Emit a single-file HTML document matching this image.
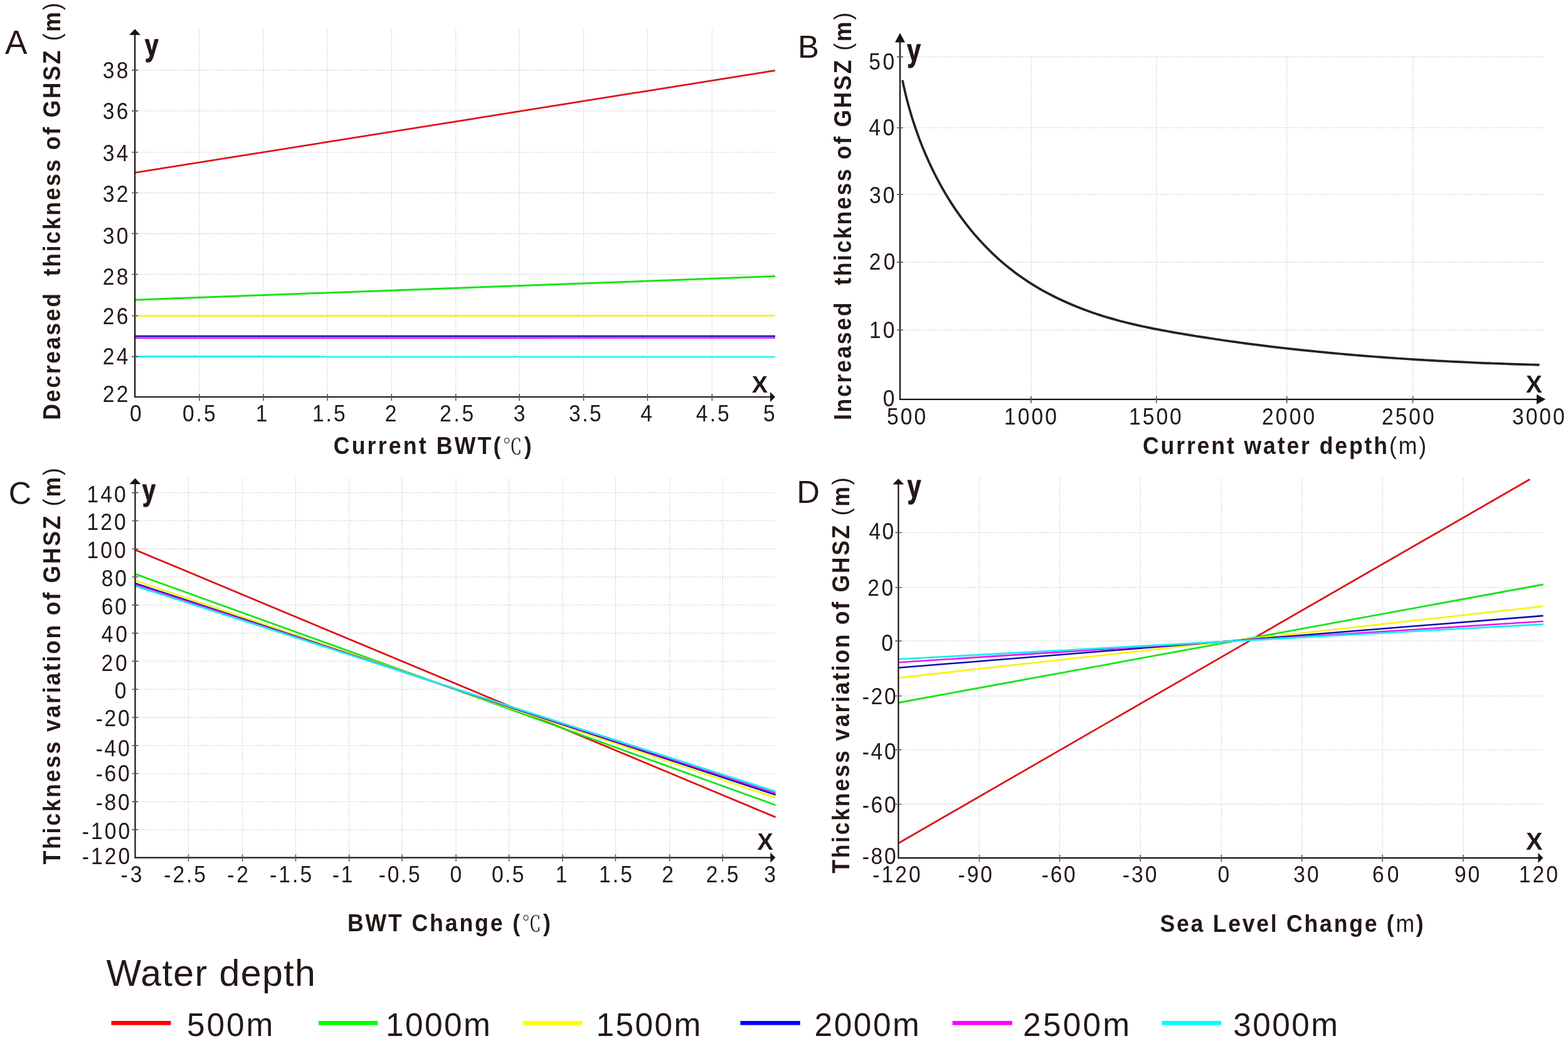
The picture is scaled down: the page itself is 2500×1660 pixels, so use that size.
<!DOCTYPE html>
<html><head><meta charset="utf-8"><title>GHSZ thickness variation</title>
<style>html,body{margin:0;padding:0;background:#fff;}svg{display:block;}
.c{font-family:'Noto Serif CJK SC','Liberation Serif',serif;font-weight:normal;font-size:0.87em;}</style></head>
<body><svg xmlns="http://www.w3.org/2000/svg" width="2500" height="1660" viewBox="0 0 2500 1660">
<rect width="2500" height="1660" fill="#fff"/>
<path d="M317.8 46.5V633M420 46.5V633M522 46.5V633M624.3 46.5V633M726.7 46.5V633M827.9 46.5V633M930.5 46.5V633M1032.4 46.5V633M1135.3 46.5V633M215.1 568.6H1236M215.1 503.5H1236M215.1 437.5H1236M215.1 372.5H1236M215.1 307.5H1236M215.1 242.8H1236M215.1 176.9H1236M215.1 111.9H1236" stroke="#cfcfcf" stroke-width="1.3" stroke-dasharray="1.8 1.9" fill="none"/>
<path d="M1644 90.7V636.8M1843.8 90.7V636.8M2051.7 90.7V636.8M2252.6 90.7V636.8M1435 526.3H2463M1435 418.1H2463M1435 310.1H2463M1435 203.7H2463M1435 90.6H2463" stroke="#cfcfcf" stroke-width="1.3" stroke-dasharray="1.8 1.9" fill="none"/>
<path d="M300.5 762.6V1367.6M386.6 762.6V1367.6M471.4 762.6V1367.6M556.7 762.6V1367.6M641 762.6V1367.6M727.1 762.6V1367.6M811.6 762.6V1367.6M897 762.6V1367.6M981.4 762.6V1367.6M1067.7 762.6V1367.6M1152.2 762.6V1367.6M215.5 1323.15H1236.3M215.5 1278.36H1236.3M215.5 1233.57H1236.3M215.5 1188.78H1236.3M215.5 1143.99H1236.3M215.5 1099.2H1236.3M215.5 1054.41H1236.3M215.5 1009.62H1236.3M215.5 964.83H1236.3M215.5 920.04H1236.3M215.5 875.25H1236.3M215.5 830.46H1236.3M215.5 785.67H1236.3" stroke="#cfcfcf" stroke-width="1.3" stroke-dasharray="1.8 1.9" fill="none"/>
<path d="M1561.5 763V1368.1M1689.5 763V1368.1M1818.2 763V1368.1M1947.4 763V1368.1M2075.6 763V1368.1M2204.2 763V1368.1M2333 763V1368.1M1432.4 1282.5H2460.3M1432.4 1195.6H2460.3M1432.4 1109.8H2460.3M1432.4 1022.1H2460.3M1432.4 936.8H2460.3M1432.4 849.3H2460.3" stroke="#cfcfcf" stroke-width="1.3" stroke-dasharray="1.8 1.9" fill="none"/>
<path d="M215.1 275.4L1236 112.4" stroke="#e01018" stroke-width="2.7" fill="none"/>
<path d="M215.1 478.2L1236 440.6" stroke="#19e319" stroke-width="3.0" fill="none"/>
<path d="M215.1 503.6L1236 503.4" stroke="#f7f314" stroke-width="2.8" fill="none"/>
<path d="M215.1 536L1236 536" stroke="#0c0cb4" stroke-width="2.6" fill="none"/>
<path d="M215.1 538.9L1236 538.8" stroke="#ee14ee" stroke-width="2.6" fill="none"/>
<path d="M215.1 568.6L1236 568.8" stroke="#19eef0" stroke-width="3.0" fill="none"/>
<path d="M1438.86 127.83C1439.28 129.8 1440.52 135.72 1441.4 139.66C1442.28 143.59 1443.2 147.52 1444.16 151.44C1445.12 155.36 1446.12 159.26 1447.16 163.16C1448.2 167.06 1449.27 170.95 1450.38 174.83C1451.49 178.71 1452.63 182.58 1453.82 186.43C1455.01 190.28 1456.24 194.12 1457.5 197.95C1458.76 201.78 1460.06 205.6 1461.4 209.41C1462.74 213.22 1464.12 217 1465.53 220.78C1466.94 224.56 1468.4 228.32 1469.89 232.07C1471.38 235.82 1472.92 239.54 1474.49 243.26C1476.06 246.97 1477.66 250.68 1479.31 254.36C1480.96 258.04 1482.65 261.71 1484.38 265.35C1486.11 268.99 1487.87 272.62 1489.68 276.22C1491.49 279.83 1493.34 283.42 1495.23 286.98C1497.12 290.54 1499.05 294.08 1501.02 297.6C1502.99 301.12 1505 304.62 1507.05 308.09C1509.1 311.56 1511.2 315.01 1513.34 318.43C1515.48 321.85 1517.65 325.24 1519.87 328.61C1522.09 331.98 1524.35 335.32 1526.66 338.63C1528.97 341.94 1531.32 345.22 1533.71 348.47C1536.1 351.72 1538.53 354.94 1541.01 358.12C1543.49 361.3 1546.01 364.45 1548.57 367.56C1551.13 370.67 1553.74 373.76 1556.39 376.8C1559.04 379.84 1561.73 382.84 1564.47 385.8C1567.21 388.76 1569.99 391.69 1572.81 394.57C1575.63 397.45 1578.5 400.29 1581.4 403.09C1584.31 405.89 1587.25 408.64 1590.24 411.35C1593.23 414.06 1596.26 416.72 1599.33 419.34C1602.4 421.96 1605.5 424.53 1608.65 427.05C1611.8 429.57 1614.99 432.05 1618.21 434.47C1621.43 436.89 1624.7 439.26 1628 441.58C1631.3 443.9 1634.64 446.16 1638.01 448.38C1641.38 450.6 1644.79 452.76 1648.23 454.87C1651.67 456.98 1655.13 459.03 1658.63 461.04C1662.13 463.05 1665.66 465.01 1669.21 466.92C1672.76 468.83 1676.35 470.69 1679.95 472.5C1683.55 474.31 1687.18 476.06 1690.83 477.78C1694.48 479.5 1698.16 481.17 1701.85 482.79C1705.54 484.42 1709.25 486 1712.98 487.53C1716.71 489.06 1720.47 490.55 1724.23 492C1727.99 493.45 1731.77 494.85 1735.57 496.21C1739.37 497.57 1743.18 498.9 1747 500.18C1750.82 501.46 1754.66 502.7 1758.51 503.9C1762.36 505.1 1766.23 506.27 1770.1 507.4C1773.97 508.53 1777.85 509.62 1781.74 510.68C1785.63 511.74 1789.54 512.76 1793.45 513.75C1797.36 514.74 1801.28 515.71 1805.2 516.64C1809.12 517.57 1813.05 518.47 1816.99 519.35C1820.93 520.23 1824.87 521.08 1828.82 521.91C1832.77 522.74 1836.71 523.54 1840.67 524.32C1844.63 525.11 1848.6 525.87 1852.56 526.62C1856.52 527.37 1860.49 528.09 1864.46 528.81C1868.43 529.52 1872.4 530.22 1876.37 530.91C1880.34 531.6 1884.32 532.27 1888.3 532.94C1892.28 533.61 1896.26 534.26 1900.24 534.91C1904.22 535.56 1908.21 536.2 1912.19 536.83C1916.17 537.46 1920.15 538.09 1924.14 538.7C1928.13 539.32 1932.12 539.92 1936.11 540.52C1940.1 541.12 1944.09 541.7 1948.08 542.28C1952.07 542.86 1956.06 543.43 1960.05 544C1964.04 544.57 1968.04 545.12 1972.04 545.67C1976.04 546.22 1980.03 546.76 1984.03 547.3C1988.03 547.83 1992.03 548.36 1996.03 548.88C2000.03 549.4 2004.03 549.91 2008.03 550.41C2012.03 550.91 2016.04 551.41 2020.04 551.9C2024.04 552.39 2028.05 552.87 2032.05 553.34C2036.05 553.81 2040.06 554.28 2044.07 554.74C2048.08 555.2 2052.09 555.65 2056.1 556.1C2060.11 556.55 2064.11 556.99 2068.12 557.42C2072.13 557.85 2076.15 558.28 2080.16 558.7C2084.17 559.12 2088.18 559.53 2092.19 559.94C2096.2 560.35 2100.22 560.75 2104.23 561.14C2108.24 561.53 2112.26 561.92 2116.28 562.3C2120.3 562.68 2124.31 563.06 2128.33 563.43C2132.35 563.8 2136.36 564.16 2140.38 564.52C2144.4 564.88 2148.41 565.23 2152.43 565.57C2156.45 565.92 2160.47 566.25 2164.49 566.59C2168.51 566.93 2172.53 567.26 2176.55 567.58C2180.57 567.9 2184.59 568.21 2188.61 568.52C2192.63 568.83 2196.66 569.14 2200.68 569.44C2204.7 569.74 2208.73 570.03 2212.75 570.32C2216.77 570.61 2220.8 570.89 2224.82 571.17C2228.84 571.45 2232.86 571.72 2236.89 571.99C2240.91 572.26 2244.94 572.52 2248.97 572.78C2252.99 573.04 2257.01 573.28 2261.04 573.53C2265.07 573.78 2269.09 574.02 2273.12 574.26C2277.15 574.5 2281.17 574.72 2285.2 574.95C2289.23 575.18 2293.25 575.4 2297.28 575.62C2301.31 575.84 2305.34 576.05 2309.37 576.26C2313.4 576.47 2317.42 576.67 2321.45 576.87C2325.48 577.07 2329.51 577.26 2333.54 577.45C2337.57 577.64 2341.6 577.82 2345.63 578C2349.66 578.18 2353.69 578.36 2357.72 578.53C2361.75 578.7 2365.78 578.87 2369.81 579.03C2373.84 579.19 2377.87 579.36 2381.9 579.51C2385.93 579.66 2389.96 579.82 2393.99 579.96C2398.02 580.11 2402.05 580.24 2406.08 580.38C2410.11 580.52 2414.15 580.66 2418.18 580.79C2422.21 580.92 2426.24 581.04 2430.27 581.16C2434.3 581.28 2438.33 581.4 2442.36 581.52C2446.39 581.63 2452.44 581.8 2454.46 581.85" stroke="#2a201b" stroke-width="3.7" fill="none"/>
<path d="M215.8 876.9L1236.6 1303.1" stroke="#e01018" stroke-width="2.8" fill="none"/>
<path d="M215.8 915.4L1236.6 1283.8" stroke="#19e319" stroke-width="2.8" fill="none"/>
<path d="M215.8 926L1236.6 1272.2" stroke="#f7f314" stroke-width="2.8" fill="none"/>
<path d="M215.8 930.3L1236.6 1267.4" stroke="#0c0cb4" stroke-width="2.6" fill="none"/>
<path d="M215.8 932.3L1236.6 1264.7" stroke="#ee14ee" stroke-width="2.6" fill="none"/>
<path d="M215.8 934.6L1236.6 1262.2" stroke="#19eef0" stroke-width="2.8" fill="none"/>
<path d="M1433.1 1344.2L1992.8 1021.6" stroke="#e01018" stroke-width="2.8" fill="none"/>
<path d="M2003 1015.4L2439.3 764.3" stroke="#e01018" stroke-width="2.8" fill="none"/>
<path d="M1432.9 1120.5L2460.5 932" stroke="#19e319" stroke-width="2.8" fill="none"/>
<path d="M1432.9 1080.8L2460.5 966.8" stroke="#f7f314" stroke-width="2.8" fill="none"/>
<path d="M1432.9 1064.8L2460.5 981.9" stroke="#0c0cb4" stroke-width="2.6" fill="none"/>
<path d="M1432.9 1056.2L2460.5 990.7" stroke="#ee14ee" stroke-width="2.6" fill="none"/>
<path d="M1432.9 1051.2L2460.5 995.5" stroke="#19eef0" stroke-width="2.8" fill="none"/>
<path d="M215.1 54.8V633H1229" stroke="#1a1311" stroke-width="2.2" fill="none"/>
<path d="M215.1 46.3L224.1 55.8H206.1Z" fill="#1a1311"/>
<path d="M1236 633L1228 641V625Z" fill="#1a1311"/>
<path d="M210.1 568.6H220.1M210.1 503.5H220.1M210.1 437.5H220.1M210.1 372.5H220.1M210.1 307.5H220.1M210.1 242.8H220.1M210.1 176.9H220.1M210.1 111.9H220.1M317.8 628V639M420 628V639M522 628V639M624.3 628V639M726.7 628V639M827.9 628V639M930.5 628V639M1032.4 628V639M1135.3 628V639" stroke="#555" stroke-width="1.6" fill="none"/>
<path d="M1435 66.4V636.8H2451" stroke="#1a1311" stroke-width="2.2" fill="none"/>
<path d="M1435 52.4L1443 67.4H1427Z" fill="#1a1311"/>
<path d="M2464.2 636.8L2450 644.8V628.8Z" fill="#1a1311"/>
<path d="M1430 526.3H1440M1430 418.1H1440M1430 310.1H1440M1430 203.7H1440M1430 90.6H1440M1644 631.8V642.8M1843.8 631.8V642.8M2051.7 631.8V642.8M2252.6 631.8V642.8" stroke="#555" stroke-width="1.6" fill="none"/>
<path d="M215.5 771V1367.6H1229.3" stroke="#1a1311" stroke-width="2.2" fill="none"/>
<path d="M215.5 762.6L224.5 772H206.5Z" fill="#1a1311"/>
<path d="M1236.3 1367.6L1228.3 1375.6V1359.6Z" fill="#1a1311"/>
<path d="M210.5 1323.15H220.5M210.5 1278.36H220.5M210.5 1233.57H220.5M210.5 1188.78H220.5M210.5 1143.99H220.5M210.5 1099.2H220.5M210.5 1054.41H220.5M210.5 1009.62H220.5M210.5 964.83H220.5M210.5 920.04H220.5M210.5 875.25H220.5M210.5 830.46H220.5M210.5 785.67H220.5M300.5 1362.6V1373.6M386.6 1362.6V1373.6M471.4 1362.6V1373.6M556.7 1362.6V1373.6M641 1362.6V1373.6M727.1 1362.6V1373.6M811.6 1362.6V1373.6M897 1362.6V1373.6M981.4 1362.6V1373.6M1067.7 1362.6V1373.6M1152.2 1362.6V1373.6" stroke="#555" stroke-width="1.6" fill="none"/>
<path d="M1432.4 771.6V1368.1H2453.3" stroke="#1a1311" stroke-width="2.2" fill="none"/>
<path d="M1432.4 763.2L1441.4 772.6H1423.4Z" fill="#1a1311"/>
<path d="M2460.3 1368.1L2452.3 1376.1V1360.1Z" fill="#1a1311"/>
<path d="M1427.4 1282.5H1437.4M1427.4 1195.6H1437.4M1427.4 1109.8H1437.4M1427.4 1022.1H1437.4M1427.4 936.8H1437.4M1427.4 849.3H1437.4M1561.5 1363.1V1374.1M1689.5 1363.1V1374.1M1818.2 1363.1V1374.1M1947.4 1363.1V1374.1M2075.6 1363.1V1374.1M2204.2 1363.1V1374.1M2333 1363.1V1374.1" stroke="#555" stroke-width="1.6" fill="none"/>
<rect x="177.5" y="1628" width="95" height="6.6" fill="#ff0000"/>
<rect x="507.7" y="1628" width="94.7" height="6.6" fill="#00ff00"/>
<rect x="833.6" y="1628" width="94.9" height="6.6" fill="#ffff00"/>
<rect x="1180.4" y="1628" width="95.3" height="6.6" fill="#0000ff"/>
<rect x="1518.6" y="1628" width="95.3" height="6.6" fill="#ff00ff"/>
<rect x="1852" y="1628" width="95.3" height="6.6" fill="#00ffff"/>
<g fill="#231815" font-family="'Liberation Sans', Arial, sans-serif">
<text x="7.88" y="86.26" font-size="53.11">A</text>
<text x="1272.07" y="91.95" font-size="50.77">B</text>
<text x="13.64" y="803.54" font-size="50.37">C</text>
<text x="1270.17" y="802.45" font-size="50.78">D</text>
<text x="231.1" y="89.01" font-size="48.99" font-weight="bold" stroke="#231815" stroke-width="1.3" stroke-linejoin="round" transform="translate(231.1 89.01) scale(0.7919 1) translate(-231.1 -89.01)">y</text>
<text x="1446.31" y="97.88" font-size="50.55" font-weight="bold" stroke="#231815" stroke-width="1.3" stroke-linejoin="round" transform="translate(1446.31 97.88) scale(0.7673 1) translate(-1446.31 -97.88)">y</text>
<text x="227" y="798.32" font-size="46.41" font-weight="bold" stroke="#231815" stroke-width="1.3" stroke-linejoin="round" transform="translate(227 798.32) scale(0.808 1) translate(-227 -798.32)">y</text>
<text x="1446.8" y="792.97" font-size="52.3" font-weight="bold" stroke="#231815" stroke-width="1.3" stroke-linejoin="round" transform="translate(1446.8 792.97) scale(0.7411 1) translate(-1446.8 -792.97)">y</text>
<text x="1198.7" y="625.55" font-size="37.82" font-weight="bold">X</text>
<text x="2432.94" y="625.95" font-size="38.45" font-weight="bold">X</text>
<text x="1207.6" y="1354.51" font-size="37.6" font-weight="bold">X</text>
<text x="2432.96" y="1355.33" font-size="39.54" font-weight="bold">X</text>
<text x="163.66" y="125.24" font-size="37.3" letter-spacing="3.79" transform="translate(163.66 125.24) scale(0.9 1) translate(-163.66 -125.24)">38</text>
<text x="163.66" y="190.24" font-size="37.3" letter-spacing="3.82" transform="translate(163.66 190.24) scale(0.9 1) translate(-163.66 -190.24)">36</text>
<text x="163.66" y="257.24" font-size="37.3" letter-spacing="3.93" transform="translate(163.66 257.24) scale(0.9 1) translate(-163.66 -257.24)">34</text>
<text x="163.66" y="321.8" font-size="37.3" letter-spacing="3.86" transform="translate(163.66 321.8) scale(0.9 1) translate(-163.66 -321.8)">32</text>
<text x="163.66" y="389.02" font-size="37.3" letter-spacing="3.87" transform="translate(163.66 389.02) scale(0.9 1) translate(-163.66 -389.02)">30</text>
<text x="163.66" y="454.3" font-size="37.3" letter-spacing="3.79" transform="translate(163.66 454.3) scale(0.9 1) translate(-163.66 -454.3)">28</text>
<text x="163.66" y="517.02" font-size="37.3" letter-spacing="3.82" transform="translate(163.66 517.02) scale(0.9 1) translate(-163.66 -517.02)">26</text>
<text x="163.66" y="581.5" font-size="37.3" letter-spacing="3.93" transform="translate(163.66 581.5) scale(0.9 1) translate(-163.66 -581.5)">24</text>
<text x="163.66" y="640.6" font-size="37.3" letter-spacing="3.86" transform="translate(163.66 640.6) scale(0.9 1) translate(-163.66 -640.6)">22</text>
<text x="207.09" y="672.39" font-size="37.3" letter-spacing="2" transform="translate(207.09 672.39) scale(0.9 1) translate(-207.09 -672.39)">0</text>
<text x="290.96" y="672.39" font-size="37.3" letter-spacing="3.33" transform="translate(290.96 672.39) scale(0.9 1) translate(-290.96 -672.39)">0.5</text>
<text x="407.88" y="672.39" font-size="37.3" letter-spacing="3.38" transform="translate(407.88 672.39) scale(0.9 1) translate(-407.88 -672.39)">1</text>
<text x="497.91" y="672.39" font-size="37.3" letter-spacing="3.38" transform="translate(497.91 672.39) scale(0.9 1) translate(-497.91 -672.39)">1.5</text>
<text x="613.83" y="672.39" font-size="37.3" letter-spacing="2" transform="translate(613.83 672.39) scale(0.9 1) translate(-613.83 -672.39)">2</text>
<text x="701.04" y="672.39" font-size="37.3" letter-spacing="4.11" transform="translate(701.04 672.39) scale(0.9 1) translate(-701.04 -672.39)">2.5</text>
<text x="818.83" y="672.39" font-size="37.3" letter-spacing="2" transform="translate(818.83 672.39) scale(0.9 1) translate(-818.83 -672.39)">3</text>
<text x="907.09" y="672.39" font-size="37.3" letter-spacing="2.72" transform="translate(907.09 672.39) scale(0.9 1) translate(-907.09 -672.39)">3.5</text>
<text x="1021.26" y="672.39" font-size="37.3" letter-spacing="2" transform="translate(1021.26 672.39) scale(0.9 1) translate(-1021.26 -672.39)">4</text>
<text x="1109.8" y="672.39" font-size="37.3" letter-spacing="3.52" transform="translate(1109.8 672.39) scale(0.9 1) translate(-1109.8 -672.39)">4.5</text>
<text x="1216.97" y="672.39" font-size="37.3" letter-spacing="2" transform="translate(1216.97 672.39) scale(0.9 1) translate(-1216.97 -672.39)">5</text>
<text x="1385.24" y="110.94" font-size="37.3" letter-spacing="3.9" transform="translate(1385.24 110.94) scale(0.9 1) translate(-1385.24 -110.94)">50</text>
<text x="1385.26" y="216.45" font-size="37.3" letter-spacing="3.87" transform="translate(1385.26 216.45) scale(0.9 1) translate(-1385.26 -216.45)">40</text>
<text x="1385.89" y="324.24" font-size="37.3" letter-spacing="3.62" transform="translate(1385.89 324.24) scale(0.9 1) translate(-1385.89 -324.24)">30</text>
<text x="1385.66" y="430.14" font-size="37.3" letter-spacing="4.91" transform="translate(1385.66 430.14) scale(0.9 1) translate(-1385.66 -430.14)">20</text>
<text x="1386.01" y="539.37" font-size="37.3" letter-spacing="3.38" transform="translate(1386.01 539.37) scale(0.9 1) translate(-1386.01 -539.37)">10</text>
<text x="1407.76" y="647.85" font-size="37.3" letter-spacing="2" transform="translate(1407.76 647.85) scale(0.9 1) translate(-1407.76 -647.85)">0</text>
<text x="1414.07" y="676.73" font-size="37.3" letter-spacing="3.42" transform="translate(1414.07 676.73) scale(0.9 1) translate(-1414.07 -676.73)">500</text>
<text x="1601.09" y="676.73" font-size="37.3" letter-spacing="3.38" transform="translate(1601.09 676.73) scale(0.9 1) translate(-1601.09 -676.73)">1000</text>
<text x="1800.02" y="676.73" font-size="37.3" letter-spacing="3.38" transform="translate(1800.02 676.73) scale(0.9 1) translate(-1800.02 -676.73)">1500</text>
<text x="2011.94" y="676.73" font-size="37.3" letter-spacing="3.58" transform="translate(2011.94 676.73) scale(0.9 1) translate(-2011.94 -676.73)">2000</text>
<text x="2202.95" y="676.73" font-size="37.3" letter-spacing="3.38" transform="translate(2202.95 676.73) scale(0.9 1) translate(-2202.95 -676.73)">2500</text>
<text x="2411.09" y="676.73" font-size="37.3" letter-spacing="3.27" transform="translate(2411.09 676.73) scale(0.9 1) translate(-2411.09 -676.73)">3000</text>
<text x="138.54" y="800.65" font-size="37.3" letter-spacing="3.38" transform="translate(138.54 800.65) scale(0.9 1) translate(-138.54 -800.65)">140</text>
<text x="138.54" y="845.19" font-size="37.3" letter-spacing="3.38" transform="translate(138.54 845.19) scale(0.9 1) translate(-138.54 -845.19)">120</text>
<text x="138.54" y="890.05" font-size="37.3" letter-spacing="3.38" transform="translate(138.54 890.05) scale(0.9 1) translate(-138.54 -890.05)">100</text>
<text x="161.76" y="935.35" font-size="37.3" letter-spacing="3.26" transform="translate(161.76 935.35) scale(0.9 1) translate(-161.76 -935.35)">80</text>
<text x="161.76" y="980.05" font-size="37.3" letter-spacing="3.26" transform="translate(161.76 980.05) scale(0.9 1) translate(-161.76 -980.05)">60</text>
<text x="161.7" y="1023.75" font-size="37.3" letter-spacing="4.26" transform="translate(161.7 1023.75) scale(0.9 1) translate(-161.7 -1023.75)">40</text>
<text x="161.46" y="1069.85" font-size="37.3" letter-spacing="4.43" transform="translate(161.46 1069.85) scale(0.9 1) translate(-161.46 -1069.85)">20</text>
<text x="182.86" y="1113.53" font-size="37.3" letter-spacing="2" transform="translate(182.86 1113.53) scale(0.9 1) translate(-182.86 -1113.53)">0</text>
<text x="152.66" y="1158.25" font-size="37.3" letter-spacing="3.06" transform="translate(152.66 1158.25) scale(0.9 1) translate(-152.66 -1158.25)">-20</text>
<text x="152.66" y="1205.83" font-size="37.3" letter-spacing="3.06" transform="translate(152.66 1205.83) scale(0.9 1) translate(-152.66 -1205.83)">-40</text>
<text x="152.66" y="1246.25" font-size="37.3" letter-spacing="3.06" transform="translate(152.66 1246.25) scale(0.9 1) translate(-152.66 -1246.25)">-60</text>
<text x="152.66" y="1291.88" font-size="37.3" letter-spacing="3.06" transform="translate(152.66 1291.88) scale(0.9 1) translate(-152.66 -1291.88)">-80</text>
<text x="130.76" y="1338.17" font-size="37.3" letter-spacing="3.38" transform="translate(130.76 1338.17) scale(0.9 1) translate(-130.76 -1338.17)">-100</text>
<text x="130.76" y="1377.64" font-size="37.3" letter-spacing="3.38" transform="translate(130.76 1377.64) scale(0.9 1) translate(-130.76 -1377.64)">-120</text>
<text x="192.46" y="1406.82" font-size="37.3" letter-spacing="4.53" transform="translate(192.46 1406.82) scale(0.9 1) translate(-192.46 -1406.82)">-3</text>
<text x="261.34" y="1406.82" font-size="37.3" letter-spacing="3.21" transform="translate(261.34 1406.82) scale(0.9 1) translate(-261.34 -1406.82)">-2.5</text>
<text x="362.34" y="1406.82" font-size="37.3" letter-spacing="4.09" transform="translate(362.34 1406.82) scale(0.9 1) translate(-362.34 -1406.82)">-2</text>
<text x="430.1" y="1406.82" font-size="37.3" letter-spacing="3.38" transform="translate(430.1 1406.82) scale(0.9 1) translate(-430.1 -1406.82)">-1.5</text>
<text x="529.64" y="1406.82" font-size="37.3" letter-spacing="3.38" transform="translate(529.64 1406.82) scale(0.9 1) translate(-529.64 -1406.82)">-1</text>
<text x="603.86" y="1406.82" font-size="37.3" letter-spacing="2.93" transform="translate(603.86 1406.82) scale(0.9 1) translate(-603.86 -1406.82)">-0.5</text>
<text x="717.56" y="1406.82" font-size="37.3" letter-spacing="2" transform="translate(717.56 1406.82) scale(0.9 1) translate(-717.56 -1406.82)">0</text>
<text x="783.96" y="1406.82" font-size="37.3" letter-spacing="2.72" transform="translate(783.96 1406.82) scale(0.9 1) translate(-783.96 -1406.82)">0.5</text>
<text x="885.71" y="1406.82" font-size="37.3" letter-spacing="3.38" transform="translate(885.71 1406.82) scale(0.9 1) translate(-885.71 -1406.82)">1</text>
<text x="955.11" y="1406.82" font-size="37.3" letter-spacing="3.38" transform="translate(955.11 1406.82) scale(0.9 1) translate(-955.11 -1406.82)">1.5</text>
<text x="1055.34" y="1406.82" font-size="37.3" letter-spacing="2" transform="translate(1055.34 1406.82) scale(0.9 1) translate(-1055.34 -1406.82)">2</text>
<text x="1125.76" y="1406.82" font-size="37.3" letter-spacing="2.79" transform="translate(1125.76 1406.82) scale(0.9 1) translate(-1125.76 -1406.82)">2.5</text>
<text x="1218.34" y="1406.82" font-size="37.3" letter-spacing="2" transform="translate(1218.34 1406.82) scale(0.9 1) translate(-1218.34 -1406.82)">3</text>
<text x="1385.6" y="860.35" font-size="37.3" letter-spacing="2.36" transform="translate(1385.6 860.35) scale(0.9 1) translate(-1385.6 -860.35)">40</text>
<text x="1383.14" y="950.19" font-size="37.3" letter-spacing="4.04" transform="translate(1383.14 950.19) scale(0.9 1) translate(-1383.14 -950.19)">20</text>
<text x="1405.24" y="1037.98" font-size="37.3" letter-spacing="2" transform="translate(1405.24 1037.98) scale(0.9 1) translate(-1405.24 -1037.98)">0</text>
<text x="1374.66" y="1122.53" font-size="37.3" letter-spacing="3.06" transform="translate(1374.66 1122.53) scale(0.9 1) translate(-1374.66 -1122.53)">-20</text>
<text x="1374.66" y="1210.85" font-size="37.3" letter-spacing="3.06" transform="translate(1374.66 1210.85) scale(0.9 1) translate(-1374.66 -1210.85)">-40</text>
<text x="1374.66" y="1295.85" font-size="37.3" letter-spacing="3.06" transform="translate(1374.66 1295.85) scale(0.9 1) translate(-1374.66 -1295.85)">-60</text>
<text x="1374.66" y="1377.82" font-size="37.3" letter-spacing="3.06" transform="translate(1374.66 1377.82) scale(0.9 1) translate(-1374.66 -1377.82)">-80</text>
<text x="1391.34" y="1407.08" font-size="37.3" letter-spacing="3.38" transform="translate(1391.34 1407.08) scale(0.9 1) translate(-1391.34 -1407.08)">-120</text>
<text x="1527.46" y="1407.08" font-size="37.3" letter-spacing="3.36" transform="translate(1527.46 1407.08) scale(0.9 1) translate(-1527.46 -1407.08)">-90</text>
<text x="1660.86" y="1407.08" font-size="37.3" letter-spacing="2.91" transform="translate(1660.86 1407.08) scale(0.9 1) translate(-1660.86 -1407.08)">-60</text>
<text x="1789.86" y="1407.08" font-size="37.3" letter-spacing="3.36" transform="translate(1789.86 1407.08) scale(0.9 1) translate(-1789.86 -1407.08)">-30</text>
<text x="1941.56" y="1407.08" font-size="37.3" letter-spacing="2" transform="translate(1941.56 1407.08) scale(0.9 1) translate(-1941.56 -1407.08)">0</text>
<text x="2062.35" y="1407.08" font-size="37.3" letter-spacing="3.3" transform="translate(2062.35 1407.08) scale(0.9 1) translate(-2062.35 -1407.08)">30</text>
<text x="2188.04" y="1407.08" font-size="37.3" letter-spacing="5.69" transform="translate(2188.04 1407.08) scale(0.9 1) translate(-2188.04 -1407.08)">60</text>
<text x="2318.95" y="1407.08" font-size="37.3" letter-spacing="3.11" transform="translate(2318.95 1407.08) scale(0.9 1) translate(-2318.95 -1407.08)">90</text>
<text x="2421.77" y="1407.08" font-size="37.3" letter-spacing="3.38" transform="translate(2421.77 1407.08) scale(0.9 1) translate(-2421.77 -1407.08)">120</text>
<text x="531.76" y="723.9" font-size="39.6" font-weight="bold" letter-spacing="3.54" transform="translate(531.76 723.9) scale(0.9 1) translate(-531.76 -723.9)">Current BWT(<tspan class="c">℃</tspan>)</text>
<text x="1821.93" y="723.8" font-size="39.6" font-weight="bold" letter-spacing="3.19" transform="translate(1821.93 723.8) scale(0.9 1) translate(-1821.93 -723.8)">Current water depth<tspan font-weight="normal">(m)</tspan></text>
<text x="553.95" y="1485.4" font-size="39.6" font-weight="bold" letter-spacing="3.21" transform="translate(553.95 1485.4) scale(0.9 1) translate(-553.95 -1485.4)">BWT Change (<tspan class="c">℃</tspan>)</text>
<text x="1849.49" y="1485.8" font-size="39.6" font-weight="bold" letter-spacing="3.04" transform="translate(1849.49 1485.8) scale(0.9 1) translate(-1849.49 -1485.8)">Sea Level Change (<tspan font-weight="normal">m</tspan>)</text>
<text x="95.7" y="669.72" font-size="39.6" font-weight="bold" letter-spacing="2.98" transform="rotate(-90 95.7 669.72) translate(95.7 669.72) scale(0.9 1) translate(-95.7 -669.72)">Decreased  thickness of GHSZ <tspan font-weight="normal">(</tspan>m<tspan font-weight="normal">)</tspan></text>
<text x="1356.6" y="669.92" font-size="39.6" font-weight="bold" letter-spacing="2.93" transform="rotate(-90 1356.6 669.92) translate(1356.6 669.92) scale(0.9 1) translate(-1356.6 -669.92)">Increased  thickness of GHSZ <tspan font-weight="normal">(</tspan>m<tspan font-weight="normal">)</tspan></text>
<text x="95.6" y="1378.39" font-size="39.6" font-weight="bold" letter-spacing="3.03" transform="rotate(-90 95.6 1378.39) translate(95.6 1378.39) scale(0.9 1) translate(-95.6 -1378.39)">Thickness variation of GHSZ <tspan font-weight="normal">(</tspan>m<tspan font-weight="normal">)</tspan></text>
<text x="1353.6" y="1392.76" font-size="39.6" font-weight="bold" letter-spacing="3" transform="rotate(-90 1353.6 1392.76) translate(1353.6 1392.76) scale(0.9 1) translate(-1353.6 -1392.76)">Thickness variation of GHSZ <tspan font-weight="normal">(</tspan>m<tspan font-weight="normal">)</tspan></text>
<text x="169.4" y="1571.8" font-size="59" letter-spacing="1.42">Water depth</text>
<text x="298.04" y="1651.67" font-size="51.35" letter-spacing="2.95">500m</text>
<text x="615.02" y="1651.67" font-size="51.35" letter-spacing="2.46">1000m</text>
<text x="950.42" y="1651.67" font-size="51.35" letter-spacing="2.49">1500m</text>
<text x="1298.54" y="1651.67" font-size="51.35" letter-spacing="2.58">2000m</text>
<text x="1631.1" y="1651.67" font-size="51.35" letter-spacing="3.25">2500m</text>
<text x="1966.33" y="1651.67" font-size="51.35" letter-spacing="2.41">3000m</text>
</g>
</svg></body></html>
